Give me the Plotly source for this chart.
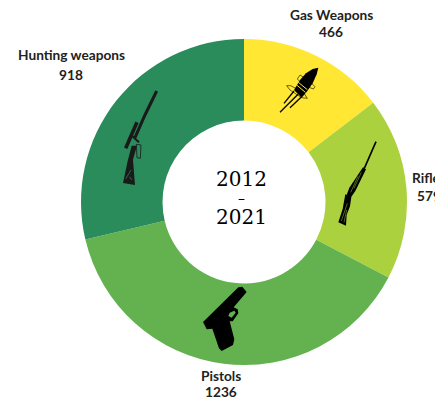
import plotly.graph_objects as go

WIDTH, HEIGHT = 435, 400

categories = ["Gas Weapons", "Rifles", "Pistols", "Hunting weapons"]
values = [466, 579, 1236, 918]
colors = ["#FFE733", "#ABD13F", "#63B14F", "#298C5A"]
period = ["2012", "–", "2021"]

INK = "#000000"


def scaled(points, ox, oy, k=1 / 3):
    """Turn icon outline points into page pixels."""
    return [(ox + x * k, oy + y * k) for x, y in points]


def path(points, close=True):
    """Build an SVG path in paper coordinates from page pixels."""
    parts = [f"{x / WIDTH:.4f},{1 - y / HEIGHT:.4f}" for x, y in points]
    return "M" + " L".join(parts) + (" Z" if close else "")


def solid(points, color=INK):
    return dict(type="path", xref="paper", yref="paper", layer="above",
                path=path(points), fillcolor=color, line=dict(width=0))


def stroke(points, width, color=INK):
    return dict(type="path", xref="paper", yref="paper", layer="above",
                path=path(points, close=False), line=dict(color=color, width=width))


# Pistol silhouette with its trigger-guard opening
pistol_body = [(130, 22), (142, 20), (155, 36), (116, 82), (128, 88), (130, 100),
               (113, 124), (104, 124), (118, 178), (114, 195), (80, 213), (72, 205),
               (52, 146), (35, 148), (24, 126)]
pistol_hole = [(104, 98), (118, 92), (122, 98), (110, 113), (100, 108)]

# Bullet with trailing tines and orbit rings
bullet_body = [(145, 38), (128, 42), (108, 55), (90, 75), (72, 105), (95, 128),
               (112, 108), (128, 85), (140, 58)]
bullet_band = [(85, 82), (112, 104)]
bullet_band2 = [(80, 90), (106, 112)]
bullet_tines = [[(72, 108), (42, 145)], [(84, 118), (30, 172)], [(94, 126), (60, 158)]]
bullet_rings = [[(62, 92), (50, 92), (60, 105), (95, 128), (112, 130), (100, 112), (62, 92)],
                [(90, 60), (82, 72), (100, 90), (130, 102), (135, 95), (115, 75), (90, 60)]]

# Pump shotgun
rifle_barrel = [(138, 20), (103, 100)]
rifle_fore = [(99, 97), (108, 103), (76, 168), (62, 188), (50, 180), (58, 158)]
rifle_stock = [(46, 178), (64, 186), (60, 214), (50, 240), (48, 272), (25, 262), (38, 222)]
rifle_grain = [[(94, 112), (72, 160)], [(84, 124), (62, 172)], [(52, 205), (34, 258)], [(50, 225), (42, 262)]]

# Scoped hunting rifle
hunter_barrel = [(125, 18), (90, 90), (60, 158)]
hunter_scope = [(66, 112), (32, 190)]
hunter_mount = [(48, 150), (72, 172)]
hunter_guard = [(64, 178), (78, 180), (76, 220), (66, 218), (64, 178)]
hunter_stock = [(50, 182), (66, 182), (54, 224), (60, 300), (24, 294), (38, 228)]
hunter_fleck = [[(48, 255), (32, 282)], [(44, 275), (50, 285)]]

shapes = [
    solid(scaled(pistol_body, 195, 280)),
    solid(scaled(pistol_hole, 195, 280), colors[2]),
    solid(scaled(bullet_body, 270, 55)),
    stroke(scaled(bullet_band, 270, 55), 1, colors[0]),
    stroke(scaled(bullet_band2, 270, 55), 1, colors[0]),
    stroke(scaled(rifle_barrel, 330, 135), 1.6),
    solid(scaled(rifle_fore, 330, 135)),
    solid(scaled(rifle_stock, 330, 135)),
    solid(scaled(hunter_stock, 115, 85), "#1a1a1a"),
    stroke(scaled(hunter_barrel, 115, 85), 3, "#1a1a1a"),
    stroke(scaled(hunter_scope, 115, 85), 3.6, "#1a1a1a"),
    stroke(scaled(hunter_mount, 115, 85), 2, "#1a1a1a"),
    stroke(scaled(hunter_guard, 115, 85), 0.8, "#1a1a1a"),
]
shapes += [stroke(scaled(t, 270, 55), 1.3) for t in bullet_tines]
shapes += [stroke(scaled(r, 270, 55), 0.6) for r in bullet_rings]
shapes += [stroke(scaled(g, 330, 135), 0.5, colors[1]) for g in rifle_grain]
shapes += [stroke(scaled(f, 115, 85), 0.7, colors[3]) for f in hunter_fleck]

fig = go.Figure(
    go.Pie(
        labels=categories,
        values=values,
        sort=False,
        direction="clockwise",
        rotation=0,
        hole=0.5,
        marker=dict(colors=colors, line=dict(width=0)),
        textinfo="none",
        hoverinfo="label+value",
        domain=dict(x=[81 / WIDTH, 407 / WIDTH], y=[1 - 365 / HEIGHT, 1 - 39 / HEIGHT]),
        showlegend=False,
    )
)


def note(text, x, y, size=13.7, family="Lato", color="#222222"):
    return dict(text=text, x=x / WIDTH, y=1 - y / HEIGHT, xref="paper", yref="paper",
                showarrow=False, xanchor="center", yanchor="middle",
                font=dict(family=family, size=size, color=color), borderpad=0)


# Category name and total sit on separate rows beside each ring segment
label_spots = [(331, 15, 32), (429, 177, 195), (221, 375, 391), (71, 55, 74)]
annotations = []
for name, total, (x, y1, y2) in zip(categories, values, label_spots):
    annotations.append(note(f"<b>{name}</b>", x, y1))
    annotations.append(note(f"<b>{total}</b>", x, y2))
for text, y, size in zip(period, [179, 198, 217], [20, 14, 20]):
    annotations.append(note(text, 241.5, y, size=size, family="DejaVu Serif", color="#000000"))

fig.update_layout(
    width=WIDTH,
    height=HEIGHT,
    margin=dict(l=0, r=0, t=0, b=0),
    paper_bgcolor="white",
    shapes=shapes,
    annotations=annotations,
)

fig.write_html("out.html", config=dict(displayModeBar=False))
